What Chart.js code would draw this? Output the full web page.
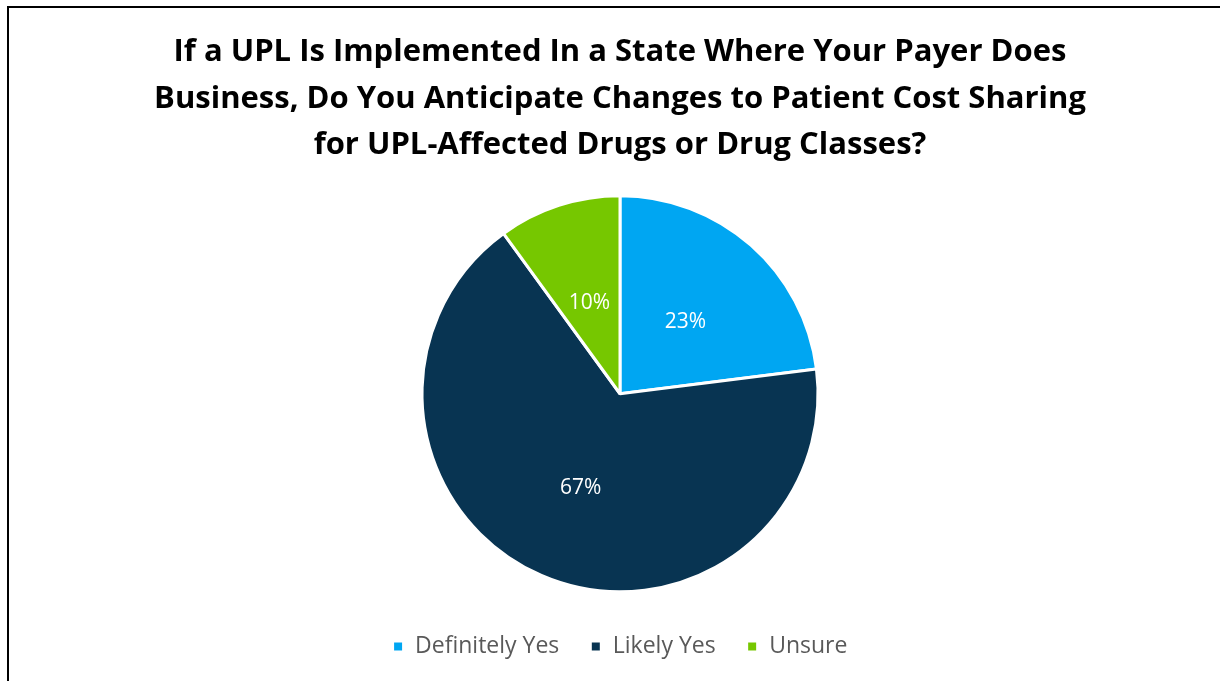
<!DOCTYPE html>
<html>
<head>
<meta charset="utf-8">
<script src="https://cdn.jsdelivr.net/npm/chart.js@4/dist/chart.umd.min.js"></script>
<style>
  html, body { margin: 0; padding: 0; background: #fff; }
  #wrap { position: relative; width: 1220px; height: 681px; }
</style>
</head>
<body>
<div id="wrap"><canvas id="upl" width="1220" height="681"></canvas></div>
<script>
const CATEGORIES = ["Definitely Yes", "Likely Yes", "Unsure"];
const SHARES = [23, 67, 10];
const COLORS = ["#00A6F2", "#083452", "#76C700"];
const TITLE_LINES = [
  "If a UPL Is Implemented In a State Where Your Payer Does",
  "Business, Do You Anticipate Changes to Patient Cost Sharing",
  "for UPL-Affected Drugs or Drug Classes?",
];
const FONT = "'Open Sans', 'DejaVu Sans', sans-serif";

// white page with the thin frame on the left and top
const frame = {
  id: "frame",
  beforeDraw(chart) {
    const ctx = chart.ctx;
    ctx.save();
    ctx.fillStyle = "#fff";
    ctx.fillRect(0, 0, chart.width, chart.height);
    ctx.strokeStyle = "#000";
    ctx.lineWidth = 2;
    ctx.beginPath();
    ctx.moveTo(8, chart.height);
    ctx.lineTo(8, 7);
    ctx.lineTo(chart.width, 7);
    ctx.stroke();
    ctx.restore();
  },
};

// percentage labels inside the slices
const sliceLabels = {
  id: "sliceLabels",
  afterDatasetsDraw(chart) {
    const ctx = chart.ctx;
    const meta = chart.getDatasetMeta(0);
    ctx.save();
    ctx.fillStyle = "#fff";
    ctx.font = `21px ${FONT}`;
    ctx.textAlign = "center";
    ctx.textBaseline = "middle";
    meta.data.forEach((arc, i) => {
      const p = arc.tooltipPosition();
      ctx.fillText(`${SHARES[i]}%`, p.x, p.y + 3);
    });
    ctx.restore();
  },
};

new Chart(document.getElementById("upl"), {
  type: "pie",
  data: {
    labels: CATEGORIES,
    datasets: [{
      data: SHARES,
      backgroundColor: COLORS,
      borderColor: "#fff",
      borderWidth: 3,
      radius: 198,
    }],
  },
  options: {
    responsive: false,
    animation: false,
    layout: { padding: { top: 0, bottom: 13, left: 20, right: 0 } },
    plugins: {
      title: {
        display: true,
        text: TITLE_LINES,
        color: "#000",
        font: { family: FONT, size: 31, weight: "bold", lineHeight: 1.5 },
        padding: { top: 29, bottom: 15 },
      },
      legend: {
        position: "bottom",
        labels: {
          color: "#595959",
          font: { family: FONT, size: 23 },
          boxWidth: 11,
          boxHeight: 11,
          padding: 31,
        },
      },
      tooltip: { enabled: false },
    },
  },
  plugins: [frame, sliceLabels],
});
</script>
</body>
</html>
